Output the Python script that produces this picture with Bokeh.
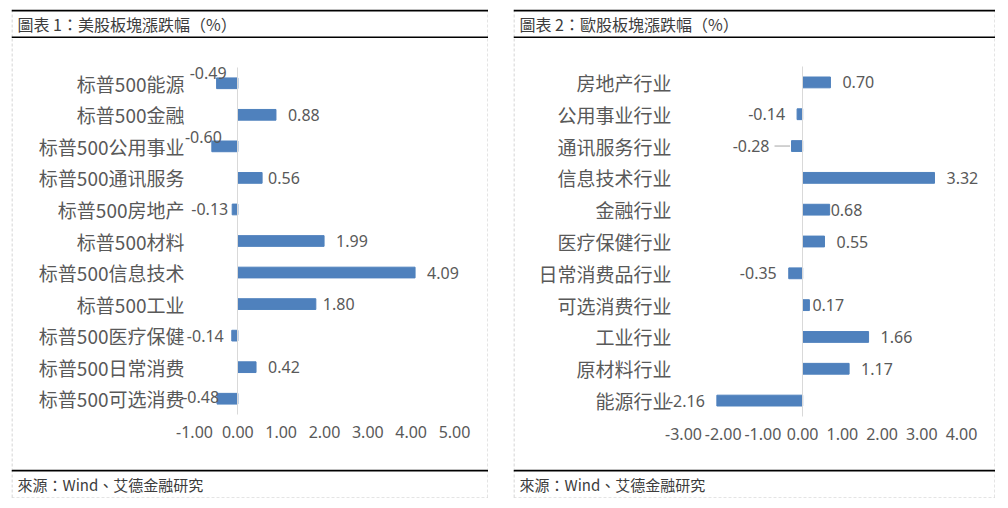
from bokeh.plotting import figure
from bokeh.models import (ColumnDataSource, Span, Label, Spacer, Range1d,
                          FixedTicker, NumeralTickFormatter, LinearAxis)
from bokeh.layouts import row, column
from bokeh.core.properties import value
from bokeh.embed import file_html
from bokeh.resources import INLINE

# ---------------- data ----------------
us_title = "圖表 1：美股板塊漲跌幅（%）"
us_categories = ["标普500能源", "标普500金融", "标普500公用事业", "标普500通讯服务",
                 "标普500房地产", "标普500材料", "标普500信息技术", "标普500工业",
                 "标普500医疗保健", "标普500日常消费", "标普500可选消费"]
us_changes = [-0.49, 0.88, -0.60, 0.56, -0.13, 1.99, 4.09, 1.80, -0.14, 0.42, -0.48]
us_ticks = [-1, 0, 1, 2, 3, 4, 5]

eu_title = "圖表 2：歐股板塊漲跌幅（%）"
eu_categories = ["房地产行业", "公用事业行业", "通讯服务行业", "信息技术行业", "金融行业",
                 "医疗保健行业", "日常消费品行业", "可选消费行业", "工业行业",
                 "原材料行业", "能源行业"]
eu_changes = [0.70, -0.14, -0.28, 3.32, 0.68, 0.55, -0.35, 0.17, 1.66, 1.17, -2.16]
eu_ticks = [-3, -2, -1, 0, 1, 2, 3, 4]

source_text = "來源：Wind、艾德金融研究"

# label placement tweaks (style only): category -> (x_offset px, y_offset px)
us_nudges = {"标普500能源": (10, -10), "标普500公用事业": (10, -9),
             "标普500可选消费": (2, -2), "标普500房地产": (-4, 0),
             "标普500医疗保健": (-8, 0), "标普500通讯服务": (6, 0),
             "标普500工业": (7, 0)}
eu_nudges = {"通讯服务行业": (-22, 0), "金融行业": (1, 0), "可选消费行业": (3, 0)}
eu_leaders = ["通讯服务行业"]

BAR = "#4F81BD"
TXT = "#595959"
BORDER = "#c8c8c8"
CJK = "Noto Sans CJK SC"
CHART_H = 431
STRIP_H = 29


def side_borders(p, x0, x1, width):
    """light dashed panel edges, half a pixel inside the frame"""
    half = 0.5 * (x1 - x0) / width
    for loc in (x0 + half, x1 - half):
        p.add_layout(Span(location=loc, dimension="height", line_color=BORDER,
                          line_width=1, line_dash="3 2"))


def bar_chart(cats, vals, ticks, width, margins, label_standoff, tick_standoff,
              nudges, leaders=()):
    L, R, T, B = margins
    n = len(cats)
    xpx = (width - L - R) / (ticks[-1] - ticks[0])
    ypx = (CHART_H - T - B) / n
    x0, x1 = ticks[0] - L / xpx, ticks[-1] + R / xpx
    y0, y1 = -0.5 - B / ypx, n - 0.5 + T / ypx
    ypos = [n - 1 - i for i in range(n)]

    p = figure(width=width, height=CHART_H,
               x_range=Range1d(x0, x1), y_range=Range1d(y0, y1),
               toolbar_location=None, output_backend="svg", min_border=0,
               outline_line_color=None, background_fill_color="white",
               border_fill_color="white")
    p.grid.visible = False
    p.hbar(y=ypos, left=0, right=vals, height=0.34, color=BAR)

    xa = p.xaxis[0]
    xa.fixed_location = -0.5
    xa.ticker = FixedTicker(ticks=ticks)
    xa.formatter = NumeralTickFormatter(format="0.00")
    xa.axis_line_color = None
    xa.major_tick_line_color = None
    xa.major_tick_out = 0
    xa.minor_tick_line_color = None
    xa.major_label_standoff = tick_standoff
    xa.major_label_text_font = "Noto Sans"
    xa.major_label_text_font_size = "16px"
    xa.major_label_text_color = TXT

    ya = p.yaxis[0]
    ya.fixed_location = ticks[0]
    ya.ticker = FixedTicker(ticks=ypos)
    ya.major_label_overrides = {y: c for y, c in zip(ypos, cats)}
    ya.axis_line_color = None
    ya.major_tick_line_color = None
    ya.major_tick_out = 0
    ya.minor_tick_line_color = None
    ya.major_label_standoff = label_standoff
    ya.major_label_text_font = CJK
    ya.major_label_text_font_size = "19px"
    ya.major_label_text_color = TXT

    # vertical category axis crossing at zero (line only)
    zero_axis = LinearAxis(fixed_location=0, bounds=(-0.5, n - 0.5),
                           ticker=FixedTicker(ticks=[]),
                           axis_line_color="#d9d9d9", axis_line_width=1,
                           major_tick_line_color=None,
                           minor_tick_line_color=None)
    p.add_layout(zero_axis, "left")

    for positive in (True, False):
        rows = [i for i, v in enumerate(vals) if (v >= 0) == positive]
        default = (12, 0) if positive else (-12, 0)
        src = ColumnDataSource(dict(
            y=[ypos[i] for i in rows],
            val=[vals[i] for i in rows],
            label=["%.2f" % vals[i] for i in rows],
            dx=[nudges.get(cats[i], default)[0] for i in rows],
            dy=[nudges.get(cats[i], default)[1] for i in rows],
        ))
        p.text(x="val", y="y", text="label", source=src,
               text_align="left" if positive else "right",
               text_baseline="middle", x_offset="dx", y_offset="dy",
               text_font=value("Noto Sans"), text_font_size="16px",
               text_color=TXT)

    if leaders:
        idx = [cats.index(c) for c in leaders]
        p.segment(x0=[vals[i] - 1.5 / xpx for i in idx], y0=[ypos[i] for i in idx],
                  x1=[vals[i] - 17 / xpx for i in idx], y1=[ypos[i] for i in idx],
                  line_color="#a6a6a6", line_width=1)

    side_borders(p, x0, x1, width)
    return p


def text_strip(text, width, top_line, bottom_line, font_size):
    p = figure(width=width, height=STRIP_H, x_range=Range1d(0, 1),
               y_range=Range1d(0, 1), x_axis_type=None, y_axis_type=None,
               toolbar_location=None, output_backend="svg", min_border=0,
               outline_line_color=None, background_fill_color="white",
               border_fill_color="white")
    p.grid.visible = False
    side_borders(p, 0, 1, width)
    if top_line:
        p.add_layout(Span(location=1 - 1.0 / STRIP_H, dimension="width",
                          line_color="#000000", line_width=2))
    if bottom_line == "solid":
        p.add_layout(Span(location=1.0 / STRIP_H, dimension="width",
                          line_color="#000000", line_width=2))
    elif bottom_line == "dashed":
        p.add_layout(Span(location=0.5 / STRIP_H, dimension="width",
                          line_color=BORDER, line_width=1, line_dash="3 2"))
    p.add_layout(Label(x=0, y=0.5, x_offset=6, text=text,
                       text_baseline="middle", text_align="left",
                       text_font="Noto Sans CJK TC", text_font_size=font_size,
                       text_color="#3c3c3c"))
    return p


def panel(title, cats, vals, ticks, width, margins, label_standoff,
          tick_standoff, nudges, leaders=()):
    t = text_strip(title, width, True, "solid", "16px")
    c = bar_chart(cats, vals, ticks, width, margins, label_standoff,
                  tick_standoff, nudges, leaders)
    f = text_strip(source_text, width, True, "dashed", "15px")
    return column(t, c, f, spacing=0)


left = panel(us_title, us_categories, us_changes, us_ticks, 477,
             (183, 34, 29, 55), 10, 11, us_nudges)
right = panel(eu_title, eu_categories, eu_changes, eu_ticks, 482,
              (170, 34, 28, 53), 12, 11, eu_nudges, eu_leaders)

layout = column(Spacer(height=9),
                row(Spacer(width=11), left, Spacer(width=25), right, spacing=0),
                spacing=0)

open("out.html", "w").write(file_html(layout, INLINE))
